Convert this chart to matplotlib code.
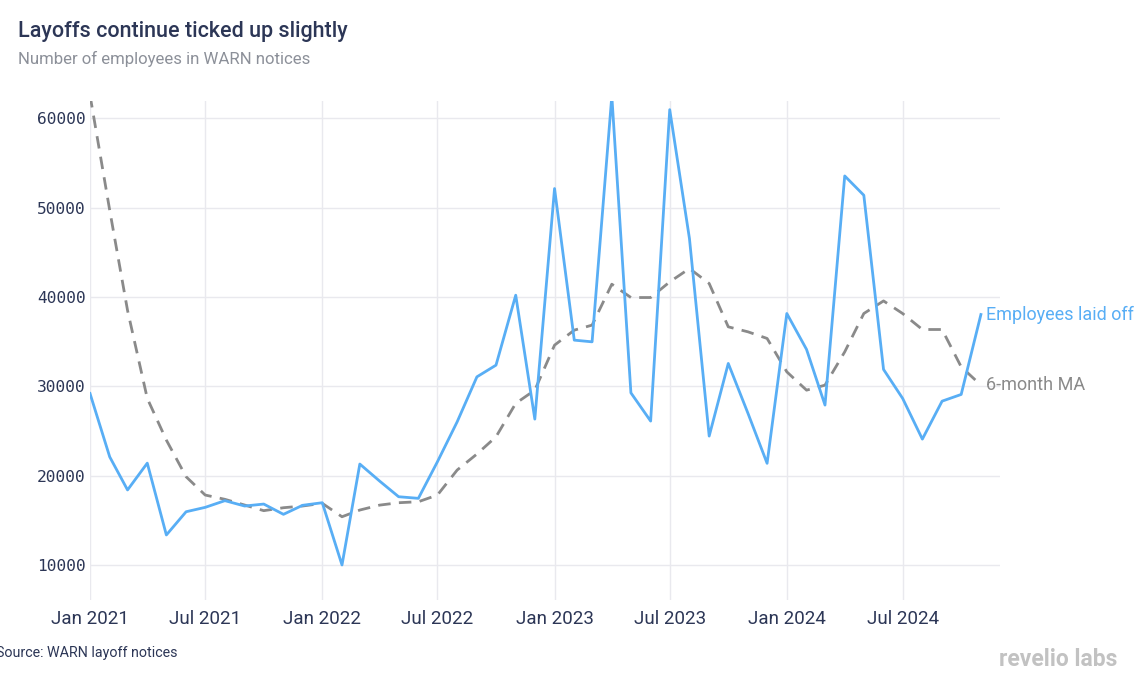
import matplotlib
matplotlib.use("Agg")
import matplotlib.pyplot as plt
import matplotlib.dates as mdates
import pandas as pd
import numpy as np

months = pd.date_range("2021-01-01", "2024-11-01", freq="MS")

laid_off = [29200, 22100, 18400, 21400, 13360, 15960, 16450, 17200, 16600, 16820, 15670, 16680,
            16970, 10000, 21300, 19400, 17640, 17460, 21560, 26030, 31060, 32370, 40200, 26330,
            52140, 35170, 34980, 62500, 29270, 26110, 60970, 46540, 24430, 32560, 26970, 21380,
            38150, 34130, 27900, 53550, 51390, 31890, 28650, 24090, 28340, 29090, 38040]

ma6 = [62600, 49700, 38500, 28650, 23980, 19880, 17830, 17350, 16710, 16080, 16410, 16600,
       16900, 15400, 16150, 16700, 16970, 17080, 17830, 20630, 22420, 24350, 28090, 29570,
       34610, 36290, 36850, 41430, 39940, 39940, 41690, 43190, 41510, 36660, 36100, 35360,
       31620, 29570, 30130, 33860, 38150, 39560, 38150, 36360, 36360, 32180, 30130]

yticks = [10000, 20000, 30000, 40000, 50000, 60000]
xtick_dates = pd.date_range("2021-01-01", "2024-07-01", freq="6MS")
xtick_labels = [d.strftime("%b %Y") for d in xtick_dates]

BLUE = "#58aef5"
GRAY = "#8a8a8a"
NAVY = "#2c3656"

fig = plt.figure(figsize=(11.46, 6.96), dpi=100)
ax = fig.add_axes([90/1146, 1-600/696, 910/1146, 499/696])

ax.plot(months, ma6, color=GRAY, lw=2.0, dashes=(4.5, 3), zorder=3)
ax.plot(months, laid_off, color=BLUE, lw=2.0, zorder=4)

ax.set_xlim(pd.Timestamp("2021-01-01"), pd.Timestamp("2024-12-01"))
ax.set_ylim(6080, 61940)

ax.set_yticks(yticks)
ax.set_yticklabels([str(v) for v in yticks], family="DejaVu Sans Mono", fontsize=11.7, color=NAVY)
ax.set_xticks(xtick_dates)
ax.set_xticklabels(xtick_labels, family="Roboto", fontsize=13.5, color=NAVY)
ax.tick_params(axis="both", length=0)
ax.tick_params(axis="y", pad=3)
ax.tick_params(axis="x", pad=7)

ax.grid(True, color="#e9e9ee", lw=1.0)
ax.set_axisbelow(True)
for s in ax.spines.values():
    s.set_visible(False)

ax.annotate("Employees laid off", xy=(months[-1], laid_off[-1]), xytext=(4, 0),
            textcoords="offset points", va="center", ha="left",
            family="Roboto", fontsize=13, color=BLUE, annotation_clip=False)
ax.annotate("6-month MA", xy=(months[-1], ma6[-1]), xytext=(4, 0),
            textcoords="offset points", va="center", ha="left",
            family="Roboto", fontsize=13, color=GRAY, annotation_clip=False)

fig.text(18/1146, 1-32/696, "Layoffs continue ticked up slightly", family="Roboto",
         fontweight="medium", fontsize=15.5, color=NAVY, va="center", ha="left")
fig.text(18/1146, 1-59/696, "Number of employees in WARN notices", family="Roboto",
         fontsize=12.1, color="#8c9099", va="center", ha="left")
fig.text(-4/1146, 1-653/696, "Source: WARN layoff notices", family="Roboto",
         fontsize=10.3, color=NAVY, va="center", ha="left")
fig.text(1117/1146, 1-660/696, "revelio labs", family="Roboto", fontweight="bold",
         fontsize=16.5, color="#c2c2c2", va="center", ha="right")

fig.savefig("out.png", dpi=100)
